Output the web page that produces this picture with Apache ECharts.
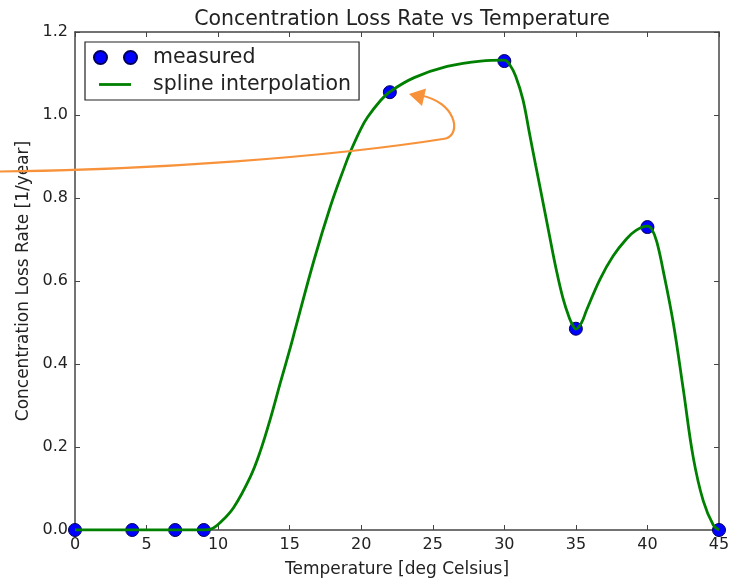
<!DOCTYPE html>
<html>
<head>
<meta charset="utf-8">
<script src="https://cdn.jsdelivr.net/npm/echarts@6/dist/echarts.min.js"></script>
<style>
html, body { margin: 0; padding: 0; background: #fff; }
#chart { width: 740px; height: 583px; }
</style>
</head>
<body>
<div id="chart"></div>
<script>
var dom = document.getElementById("chart");
var myChart = echarts.init(dom);

// measured points
var measuredX = [0, 4, 7, 9, 22, 30, 35, 40, 45];
var measuredY = [0, 0, 0, 0, 1.055, 1.13, 0.485, 0.73, 0];

// spline curve
var splineX = [0, 2, 4, 6, 7, 8, 9, 9.5, 10.15, 11.1, 12.25, 12.95, 13.65, 14.35, 15.05,
    15.4, 16.7, 17.85, 18.8, 19.25, 19.95, 20.45, 21.35, 22, 23.7, 26, 28.35, 30,
    30.4, 30.8, 31.3, 31.75, 32.2, 32.7, 33.15, 33.6, 34.1, 34.55, 34.8, 35, 35.4, 35.75, 36.7,
    37.6, 38.5, 39.2, 40, 40.3, 40.65, 41.1, 41.8, 42.5, 43.2, 43.9, 44.6, 45];
var splineY = [0, 0, 0, 0, 0, 0, 0, 0.002, 0.018, 0.055, 0.128, 0.19, 0.268, 0.355, 0.44,
    0.485, 0.65, 0.78, 0.872, 0.912, 0.965, 0.995, 1.035, 1.056, 1.09, 1.117, 1.13, 1.132,
    1.12, 1.093, 1.037, 0.957, 0.877, 0.79, 0.71, 0.632, 0.558, 0.51, 0.492, 0.484, 0.5, 0.53, 0.605,
    0.66, 0.70, 0.722, 0.732, 0.725, 0.695, 0.625, 0.50, 0.34, 0.175, 0.07, 0.012, 0];

var xTicks = { min: 0, max: 45, interval: 5 };
var yTicks = { min: 0, max: 1.2, interval: 0.2 };

var measuredData = [];
for (var i = 0; i < measuredX.length; i++) {
    measuredData.push([measuredX[i], measuredY[i]]);
}
var splineData = [];
for (var i = 0; i < splineX.length; i++) {
    splineData.push([splineX[i], splineY[i]]);
}

var fontName = "DejaVu Sans";
var axisColor = "#444";
var labelColor = "#222";

function frameAxis(pos) {
    return {
        type: "value", position: pos,
        axisLine: { show: true, onZero: false, lineStyle: { color: axisColor, width: 1.5 } },
        axisTick: { show: true, inside: true, length: 5, lineStyle: { color: axisColor } },
        axisLabel: { show: false },
        splitLine: { show: false }
    };
}
var xTop = frameAxis("top");
xTop.min = xTicks.min; xTop.max = xTicks.max; xTop.interval = xTicks.interval;
var yRight = frameAxis("right");
yRight.min = yTicks.min; yRight.max = yTicks.max; yRight.interval = yTicks.interval;

var option = {
    backgroundColor: "#fff",
    animation: false,
    textStyle: { fontFamily: fontName },
    title: {
        text: "Concentration Loss Rate vs Temperature",
        left: 397,
        textAlign: "center",
        top: 4,
        textStyle: { fontSize: 20.5, fontWeight: "normal", color: labelColor, fontFamily: fontName }
    },
    grid: { left: 75, right: 21, top: 32, bottom: 51 },
    legend: {
        orient: "vertical",
        left: 85,
        top: 42,
        padding: [5, 8, 5, 8],
        itemGap: 6,
        itemWidth: 54,
        itemHeight: 13,
        borderColor: "#222",
        borderWidth: 1.2,
        borderRadius: 0,
        textStyle: { fontSize: 20.5, color: labelColor, fontFamily: fontName },
        data: [
            { name: "measured", icon: "path://M0,6.5A6.5,6.5 0 1 1 13,6.5A6.5,6.5 0 1 1 0,6.5ZM30,6.5A6.5,6.5 0 1 1 43,6.5A6.5,6.5 0 1 1 30,6.5ZM54,0M54,13" },
            { name: "spline interpolation", icon: "path://M0,0M54,13M5,5.1H37V7.9H5Z" }
        ]
    },
    xAxis: [
        {
            type: "value", min: xTicks.min, max: xTicks.max, interval: xTicks.interval,
            name: "Temperature [deg Celsius]", nameLocation: "middle", nameGap: 31,
            nameTextStyle: { fontSize: 17, color: labelColor, fontFamily: fontName },
            axisLine: { show: true, onZero: false, lineStyle: { color: axisColor, width: 1.5 } },
            axisTick: { show: true, inside: true, length: 5, lineStyle: { color: axisColor } },
            axisLabel: { fontSize: 16, color: labelColor, margin: 7 },
            splitLine: { show: false }
        },
        xTop
    ],
    yAxis: [
        {
            type: "value", min: yTicks.min, max: yTicks.max, interval: yTicks.interval,
            name: "Concentration Loss Rate [1/year]", nameLocation: "middle", nameGap: 42,
            nameTextStyle: { fontSize: 17, color: labelColor, fontFamily: fontName },
            axisLine: { show: true, onZero: false, lineStyle: { color: axisColor, width: 1.5 } },
            axisTick: { show: true, inside: true, length: 5, lineStyle: { color: axisColor } },
            axisLabel: { fontSize: 16, color: labelColor, margin: 7,
                formatter: function (v) { return v.toFixed(1); } },
            splitLine: { show: false }
        },
        yRight
    ],
    series: [
        {
            name: "measured",
            type: "scatter",
            data: measuredData,
            symbolSize: 13,
            itemStyle: { color: "#0000ff", borderColor: "#00005a", borderWidth: 1, opacity: 1 },
            z: 2
        },
        {
            name: "spline interpolation",
            type: "line",
            data: splineData,
            smooth: 0.4,
            symbol: "none",
            lineStyle: { color: "#008000", width: 2.8 },
            itemStyle: { color: "#008000" },
            z: 3
        }
    ]
};
myChart.setOption(option);

// orange annotation arrow (drawn on top, free-hand)
var orange = "#f7923a";
myChart.setOption({
    graphic: [
        {
            type: "bezierCurve",
            shape: { x1: 0, y1: 171.5, cpx1: 150, cpy1: 170, cpx2: 330, cpy2: 157, x2: 446, y2: 138.5 },
            style: { stroke: orange, lineWidth: 2.2, fill: null },
            z: 100
        },
        {
            type: "bezierCurve",
            shape: { x1: 446, y1: 138.5, cpx1: 462, cpy1: 133, cpx2: 455, cpy2: 102, x2: 421, y2: 95.5 },
            style: { stroke: orange, lineWidth: 2.2, fill: null },
            z: 100
        },
        {
            type: "polygon",
            shape: { points: [[409, 94], [426, 88.5], [422, 106]] },
            style: { fill: orange },
            z: 100
        }
    ]
});
</script>
</body>
</html>
